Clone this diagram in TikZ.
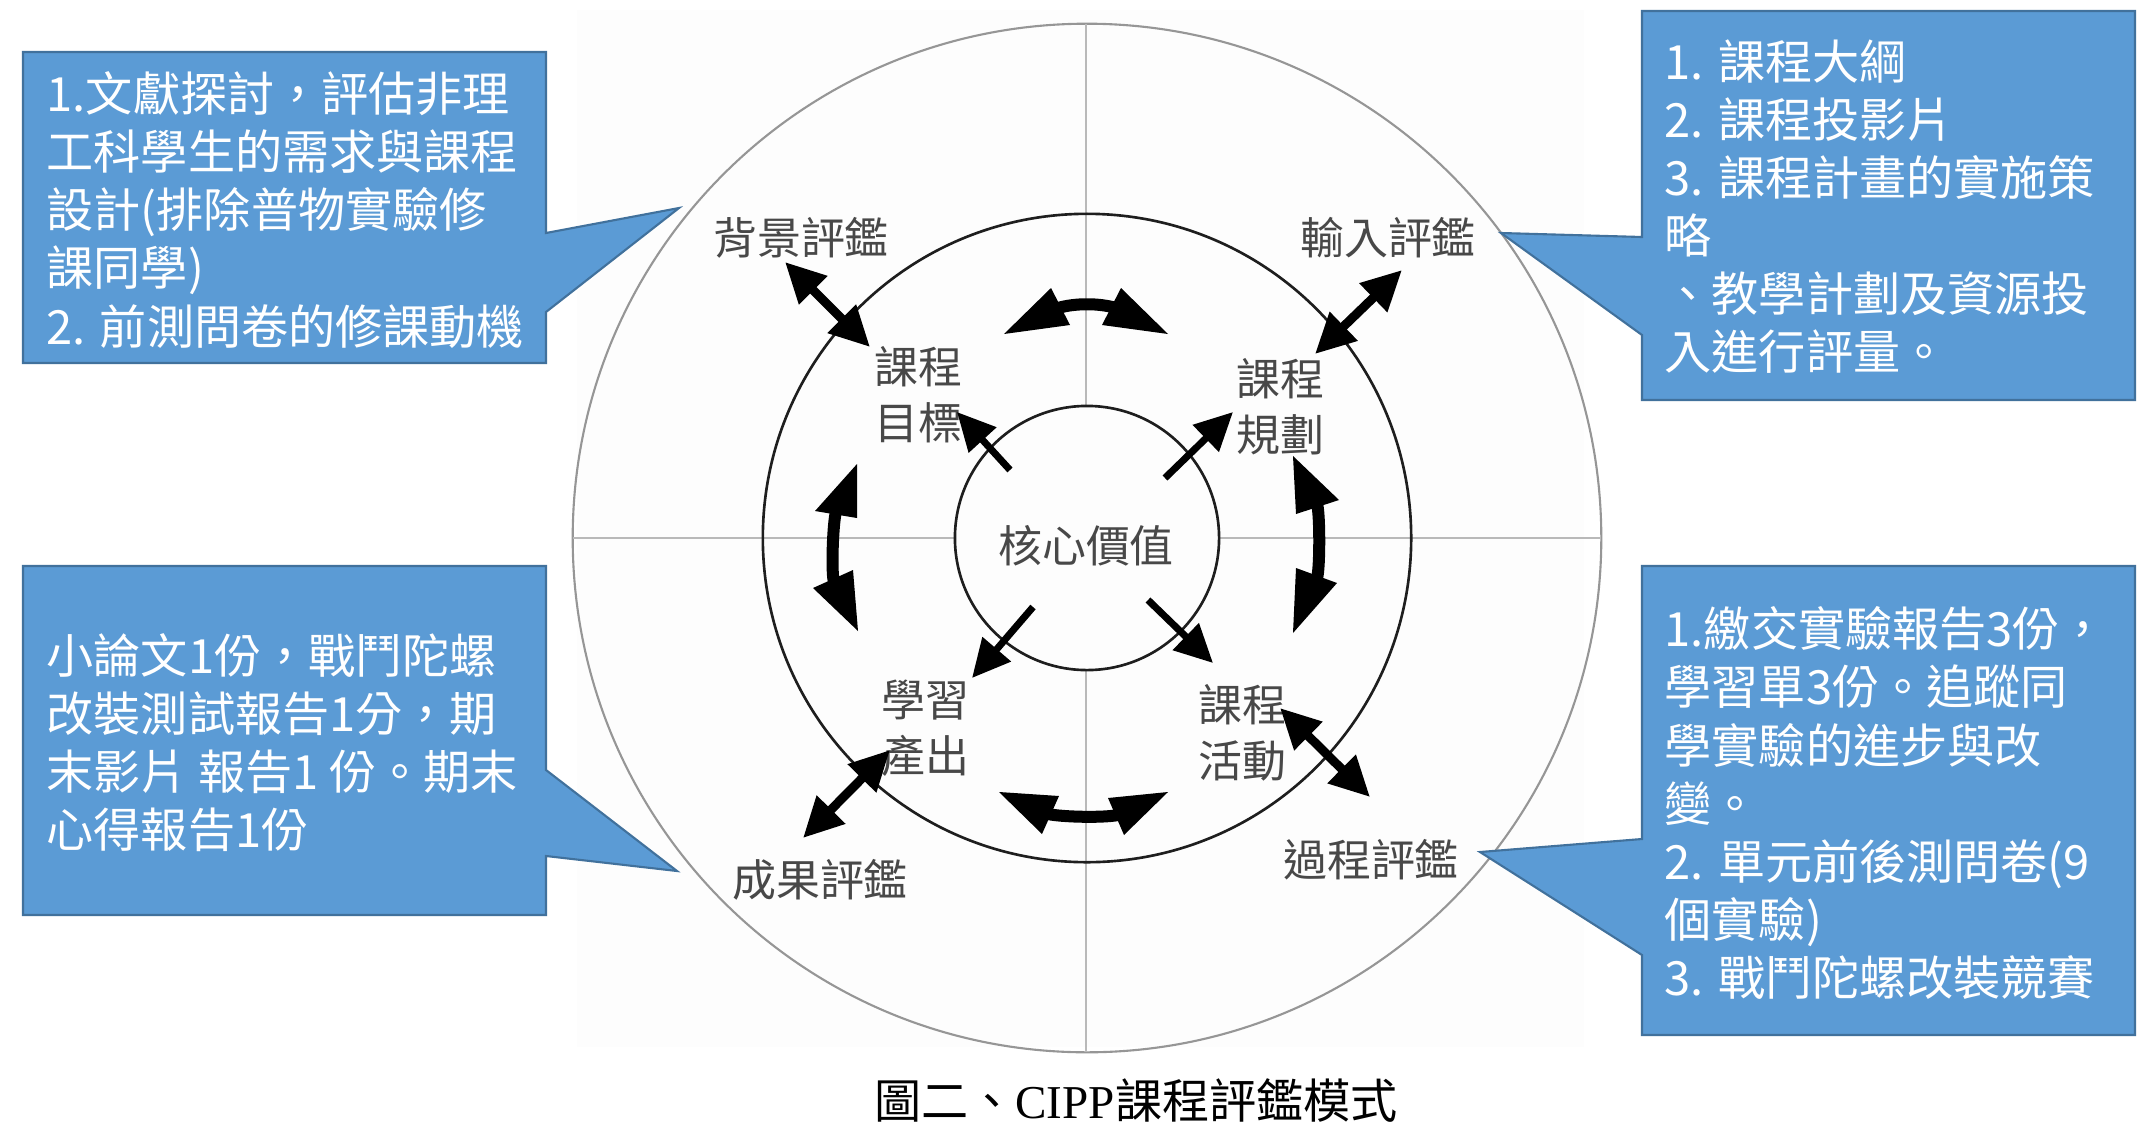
\documentclass[tikz,border=0pt]{standalone}
\usepackage{fontspec}
\usetikzlibrary{arrows.meta}
\newfontfamily\cjk{Noto Sans CJK TC}
\newfontfamily\enserif{Liberation Serif}
\definecolor{callblue}{RGB}{91,155,213}
\definecolor{calledge}{RGB}{65,113,156}
\definecolor{lbl}{RGB}{72,72,72}
\definecolor{ringgray}{RGB}{150,150,150}
\definecolor{crossgray}{RGB}{185,185,185}
\definecolor{ringdark}{RGB}{30,30,30}
\definecolor{photobg}{RGB}{253,253,253}
\begin{document}
\begin{tikzpicture}[x=0.01cm,y=-0.01cm,
  callout/.style={fill=callblue,draw=calledge,line width=0.6pt,line join=miter},
  calltext/.style={anchor=west,inner sep=0pt,align=left,text=white,font=\cjk\fontsize{13.4}{16.5}\selectfont},
  evallabel/.style={inner sep=0pt,text=lbl,font=\cjk\fontsize{12.5}{15.9}\selectfont},
  partlabel/.style={inner sep=0pt,text=lbl,align=center,font=\cjk\fontsize{12.5}{15.9}\selectfont},
  dblarrow/.style={line width=0.09cm,{Triangle[length=0.4cm,width=0.38cm]}-{Triangle[length=0.4cm,width=0.38cm]}},
  outarrow/.style={line width=0.07cm,-{Triangle[length=0.38cm,width=0.36cm]}},
  bowshaft/.style={line width=0.12cm,draw=black},
  bowhead/.style={fill=black},
]
\useasboundingbox (0,0) rectangle (2139,1130);
\fill[white] (0,0) rectangle (2139,1130);
% photo background
\fill[photobg] (577,10) rectangle (1584,1047);

% rings
\coordinate (ctr) at (1087,538);
\draw[ringgray,line width=0.6pt] (ctr) circle[radius=5.14cm];
\draw[crossgray,line width=0.6pt] (1086,24) -- (1086,406) (1086,670) -- (1086,1052)
  (573,538) -- (955,538) (1219,538) -- (1601,538);
\draw[ringdark,line width=0.75pt] (ctr) circle[radius=3.24cm];
\draw[ringdark,line width=0.75pt] (ctr) circle[radius=1.32cm];

% labels
\node[evallabel] (bg) at (801,238) {背景評鑑};
\node[evallabel] (inp) at (1388,238) {輸入評鑑};
\node[evallabel] (res) at (820,880) {成果評鑑};
\node[evallabel] (proc) at (1371,860) {過程評鑑};
\node[partlabel] (goal) at (918,395) {課程\\目標};
\node[partlabel] (plan) at (1280,407) {課程\\規劃};
\node[partlabel] (learn) at (925,728) {學習\\產出};
\node[partlabel] (act) at (1242,733) {課程\\活動};
\node[evallabel] (core) at (1086,546) {核心價值};

% straight double arrows
\coordinate (a1s) at (785,262); \coordinate (a1e) at (870,347);
\coordinate (a2s) at (1402,270); \coordinate (a2e) at (1315,354);
\coordinate (a3s) at (803,838); \coordinate (a3e) at (890,750);
\coordinate (a4s) at (1280,708); \coordinate (a4e) at (1370,797);
\draw[dblarrow] (a1s) -- (a1e);
\draw[dblarrow] (a2s) -- (a2e);
\draw[dblarrow] (a3s) -- (a3e);
\draw[dblarrow] (a4s) -- (a4e);

% single arrows from the core
\coordinate (s1s) at (1010,470); \coordinate (s1e) at (957,412);
\coordinate (s2s) at (1165,478); \coordinate (s2e) at (1233,412);
\coordinate (s3s) at (1033,607); \coordinate (s3e) at (972,678);
\coordinate (s4s) at (1148,600); \coordinate (s4e) at (1213,663);
\draw[outarrow] (s1s) -- (s1e);
\draw[outarrow] (s2s) -- (s2e);
\draw[outarrow] (s3s) -- (s3e);
\draw[outarrow] (s4s) -- (s4e);

% curved double arrows (top)
\draw[bowshaft] (1058,308) .. controls (1075,303) and (1099,303) .. (1116,308);
\fill[bowhead] (1004,334) -- (1051,288) -- (1070,325) -- cycle;
\fill[bowhead] (1168,334) -- (1121,288) -- (1102,325) -- cycle;
% left
\draw[bowshaft] (836,512) .. controls (833,521) and (831,573) .. (834,582);
\fill[bowhead] (857,464) -- (815,511) -- (857,518) -- cycle;
\fill[bowhead] (858,631) -- (813,588) -- (853,570) -- cycle;
% right
\draw[bowshaft] (1317,504) .. controls (1320,513) and (1320,569) .. (1317,578);
\fill[bowhead] (1293,456) -- (1339,500) -- (1296,514) -- cycle;
\fill[bowhead] (1293,633) -- (1296,568) -- (1337,583) -- cycle;
% bottom
\draw[bowshaft] (1048,814) .. controls (1062,817) and (1103,818) .. (1118,815);
\fill[bowhead] (999,792) -- (1059,796) -- (1042,834) -- cycle;
\fill[bowhead] (1168,792) -- (1108,798) -- (1124,835) -- cycle;

% callouts
\draw[callout] (23,52) -- (546,52) -- (546,233) -- (679,208) -- (546,312) -- (546,363) -- (23,363) -- cycle;
\node[calltext] (ctxt) at (46,210) {1.文獻探討，評估非理\\工科學生的需求與課程\\設計(排除普物實驗修\\課同學)\\2. 前測問卷的修課動機};

\draw[callout] (1642,11) -- (2135,11) -- (2135,400) -- (1642,400) -- (1642,335) -- (1501,233) -- (1642,237) -- cycle;
\node[calltext] (itxt) at (1664,207) {1. 課程大綱\\2. 課程投影片\\3. 課程計畫的實施策\\略\\、教學計劃及資源投\\入進行評量。};

\draw[callout] (23,566) -- (546,566) -- (546,770) -- (677,871) -- (546,856) -- (546,915) -- (23,915) -- cycle;
\node[calltext] (otxt) at (46,743) {小論文1份，戰鬥陀螺\\改裝測試報告1分，期\\末影片 報告1 份。期末\\心得報告1份};

\draw[callout] (1642,566) -- (2135,566) -- (2135,1035) -- (1642,1035) -- (1642,955) -- (1480,852) -- (1642,839) -- cycle;
\node[calltext] (ptxt) at (1664,803) {1.繳交實驗報告3份，\\學習單3份。追蹤同\\學實驗的進步與改\\變。\\2. 單元前後測問卷(9\\個實驗)\\3. 戰鬥陀螺改裝競賽};

% caption
\node[inner sep=0pt,font=\cjk\fontsize{13.4}{16}\selectfont] (cap) at (1136,1101) {圖二、{\enserif CIPP}課程評鑑模式};
\end{tikzpicture}
\end{document}
